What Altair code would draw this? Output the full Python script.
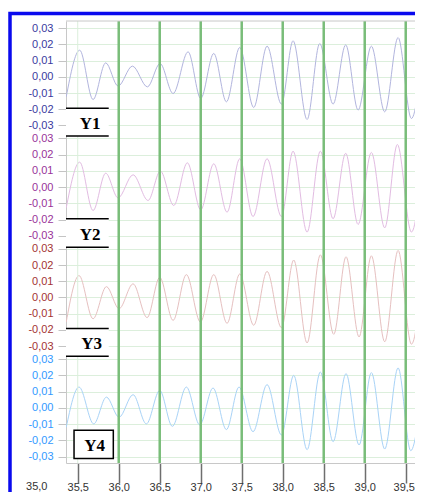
import altair as alt
import pandas as pd

# ---------------- data ----------------
series_names = ["Y1", "Y2", "Y3", "Y4"]

y1_x = [35.36, 35.524, 35.687, 35.841, 35.992, 36.167, 36.35, 36.504, 36.663, 36.846, 37.0, 37.159,
        37.313, 37.476, 37.646, 37.809, 37.984, 38.126, 38.297, 38.451, 38.614, 38.768, 38.919,
        39.081, 39.244, 39.407, 39.569, 39.73]
y1_v = [-0.0123, 0.0164, -0.0140, 0.0086, -0.0057, 0.0066, -0.0062, 0.0082, -0.0103, 0.0154, -0.0133,
        0.0144, -0.0154, 0.0181, -0.0189, 0.0189, -0.0168, 0.0222, -0.0263, 0.0205, -0.0168, 0.0197,
        -0.0205, 0.0189, -0.0216, 0.0242, -0.0257, 0.0270]

y2_x = [35.36, 35.524, 35.687, 35.841, 35.992, 36.175, 36.358, 36.508, 36.671, 36.837, 37.0, 37.159,
        37.321, 37.476, 37.638, 37.809, 37.984, 38.126, 38.297, 38.459, 38.614, 38.768, 38.919,
        39.081, 39.244, 39.398, 39.569, 39.73]
y2_v = [-0.0127, 0.0154, -0.0144, 0.0086, -0.0066, 0.0076, -0.0082, 0.0099, -0.0113, 0.0150, -0.0140,
        0.0144, -0.0154, 0.0175, -0.0181, 0.0175, -0.0181, 0.0222, -0.0277, 0.0222, -0.0195, 0.0209,
        -0.0230, 0.0214, -0.0251, 0.0263, -0.0277, 0.0290]

y3_x = [35.36, 35.516, 35.687, 35.850, 36.004, 36.175, 36.346, 36.5, 36.663, 36.825, 36.996, 37.159,
        37.321, 37.476, 37.646, 37.809, 37.984, 38.134, 38.297, 38.459, 38.622, 38.772, 38.931,
        39.081, 39.244, 39.407, 39.569, 39.73]
y3_v = [-0.0151, 0.0135, -0.0131, 0.0067, -0.0069, 0.0084, -0.0124, 0.0124, -0.0141, 0.0141, -0.0151,
        0.0141, -0.0159, 0.0145, -0.0171, 0.0161, -0.0186, 0.0231, -0.0280, 0.0263, -0.0227, 0.0251,
        -0.0243, 0.0257, -0.0273, 0.0290, -0.0288, 0.0290]

y4_x = [35.36, 35.516, 35.695, 35.850, 36.004, 36.175, 36.337, 36.5, 36.654, 36.825, 36.988, 37.150,
        37.313, 37.467, 37.638, 37.809, 37.984, 38.134, 38.297, 38.459, 38.614, 38.772, 38.931,
        39.081, 39.244, 39.407, 39.561, 39.73]
y4_v = [-0.0120, 0.0128, -0.0099, 0.0066, -0.0058, 0.0081, -0.0099, 0.0107, -0.0114, 0.0128, -0.0105,
        0.0122, -0.0134, 0.0128, -0.0147, 0.0143, -0.0167, 0.0200, -0.0258, 0.0221, -0.0209, 0.0211,
        -0.0229, 0.0217, -0.0254, 0.0246, -0.0264, 0.0280]

x_ticks = [35.5, 36.0, 36.5, 37.0, 37.5, 38.0, 38.5, 39.0, 39.5]
x_first_label = [35.0]
markers = [36.0, 36.5, 37.0, 37.5, 38.0, 38.5, 39.0, 39.5]
y_ticks_local = [-0.03, -0.02, -0.01, 0.0, 0.01, 0.02, 0.03]

# ---------------- layout / style ----------------
offsets = {"Y1": 0.204, "Y2": 0.136, "Y3": 0.068, "Y4": 0.0}
label_colors = {"Y1": "#3a3a9e", "Y2": "#993399", "Y3": "#a33333", "Y4": "#3399ff"}
line_colors = {"Y1": "#b2b5de", "Y2": "#e2bce2", "Y3": "#e6c0c0", "Y4": "#a9d3f7"}
border_grey = "#c8c8c8"

W, H = 349, 442
TICK = 20
xscale = alt.Scale(domain=[35.357, 35.357 + W / 82.0], nice=False, zero=False)
yscale = alt.Scale(domain=[-0.034, 0.2384], nice=False, zero=False)

rows = []
for name, xs, vs in [("Y1", y1_x, y1_v), ("Y2", y2_x, y2_v), ("Y3", y3_x, y3_v), ("Y4", y4_x, y4_v)]:
    for i, (a, b) in enumerate(zip(xs, vs)):
        rows.append({"series": name, "order": i, "x": a, "value": b, "yc": b + offsets[name]})
df = pd.DataFrame(rows)

y_vals = sorted(round(v + offsets[s], 4) for s in series_names for v in y_ticks_local)
K = "round(((datum.value + 0.034) % 0.068 - 0.034) * 100)"
y_label_expr = f"({K} < 0 ? '-' : '') + '0,0' + abs({K})"
y_label_color = {
    "condition": [
        {"test": "datum.value > 0.17", "value": label_colors["Y1"]},
        {"test": "datum.value > 0.102", "value": label_colors["Y2"]},
        {"test": "datum.value > 0.034", "value": label_colors["Y3"]},
    ],
    "value": label_colors["Y4"],
}
x_label_expr = "replace(format(datum.value, '.1f'), '.', ',')"

y_axis = alt.Axis(values=y_vals, labelExpr=y_label_expr, labelColor=y_label_color, title=None,
                  grid=True, gridColor="#dcefdc", gridWidth=1, domain=True, domainColor=border_grey,
                  tickColor="#c4c4c4", tickSize=8, labelPadding=5, labelFont="Liberation Sans",
                  labelFontSize=11, labelOverlap=False, labelFlush=False)
x_axis = alt.Axis(values=x_ticks, labelExpr=x_label_expr,
                  title=None, grid=False, domain=True, domainColor=border_grey,
                  tickColor="#6e6e6e", tickWidth=1.5, tickSize=TICK,
                  labelOffset={"condition": {"test": "datum.value > 39.4", "value": -2}, "value": 0},
                  labelPadding=-2, labelFont="Liberation Sans", labelFontSize=11, labelColor="#333333",
                  labelOverlap=False, labelFlush=False, labelBound=False)


def X(field):
    return alt.X(field, scale=xscale, axis=x_axis, title=None)


def Y(field):
    return alt.Y(field, scale=yscale, axis=y_axis, title=None)


frame = alt.Chart(pd.DataFrame({"a": [0]})).mark_rect(
    filled=False, stroke="#0a0aee", strokeWidth=3.5
).encode(x=alt.value(-56), x2=alt.value(700), y=alt.value(-7.5), y2=alt.value(700))

top_border = alt.Chart(pd.DataFrame({"a": [0]})).mark_rule(color=border_grey, strokeWidth=1).encode(
    x=alt.value(0), x2=alt.value(W + 20), y=alt.value(0)
)

vgrid = alt.Chart(pd.DataFrame({"v": x_ticks})).mark_rule(color="#dcefdc", strokeWidth=1).encode(
    x=X("v:Q")
)
green = alt.Chart(pd.DataFrame({"m": markers})).mark_rule(color="#79bd79", strokeWidth=2.5).encode(
    x=X("m:Q")
)

lines = alt.Chart(df).mark_line(interpolate="monotone", strokeWidth=1, clip=True).encode(
    x=X("x:Q"),
    y=Y("yc:Q"),
    color=alt.Color("series:N", scale=alt.Scale(domain=series_names,
                                                range=[line_colors[s] for s in series_names]), legend=None),
    detail="series:N",
    order="order:Q",
)

# "35,0" label sits left of the plot area, below the axis line
first_label = alt.Chart(pd.DataFrame({"v": x_first_label})).transform_calculate(
    lab=x_label_expr.replace("datum.value", "datum.v")
).mark_text(font="Liberation Sans", fontSize=11, color="#333333", align="center", baseline="top").encode(
    x=X("v:Q"), y=alt.value(H + TICK - 2), text="lab:N"
)

# annotation boxes (data coordinates)
ann = pd.DataFrame([
    {"label": "Y1", "x0": 35.357, "x1": 35.878, "y0": 0.1675, "y1": 0.1846, "tx": 35.65, "ty": 0.1749},
    {"label": "Y2", "x0": 35.357, "x1": 35.878, "y0": 0.0990, "y1": 0.1165, "tx": 35.65, "ty": 0.1064},
    {"label": "Y3", "x0": 35.357, "x1": 35.878, "y0": 0.0318, "y1": 0.0489, "tx": 35.67, "ty": 0.0394},
])
ann4 = pd.DataFrame([
    {"label": "Y4", "x0": 35.455, "x1": 35.934, "y0": -0.0313, "y1": -0.0138, "tx": 35.705, "ty": -0.0237},
])

box_fill = alt.Chart(ann).mark_rect(fill="white", strokeWidth=0).encode(
    x=X("x0:Q"), x2="x1:Q", y=Y("y0:Q"), y2="y1:Q",
)
box_top = alt.Chart(ann).mark_rule(color="black", strokeWidth=1.5).encode(
    x=X("x0:Q"), x2="x1:Q", y=Y("y1:Q"),
)
box_bot = alt.Chart(ann).mark_rule(color="black", strokeWidth=1.5).encode(
    x=X("x0:Q"), x2="x1:Q", y=Y("y0:Q"),
)
box4 = alt.Chart(ann4).mark_rect(fill="white", stroke="black", strokeWidth=1.5).encode(
    x=X("x0:Q"), x2="x1:Q", y=Y("y0:Q"), y2="y1:Q",
)
ann_all = pd.concat([ann, ann4], ignore_index=True)
box_text = alt.Chart(ann_all).mark_text(
    font="Liberation Serif", fontWeight="bold", fontSize=17, color="black",
    align="center", baseline="middle"
).encode(
    x=X("tx:Q"), y=Y("ty:Q"), text="label:N",
)

chart = alt.layer(
    lines, frame, vgrid, green, top_border, box_fill, box_top, box_bot, box4, box_text, first_label
).properties(
    width=W, height=H,
    autosize=alt.AutoSizeParams(type="none"),
    padding={"left": 58, "top": 13, "right": 0, "bottom": 29},
    background="white",
).configure_view(stroke=None)

chart.save("out.html", embed_options={"renderer": "svg", "actions": False})
